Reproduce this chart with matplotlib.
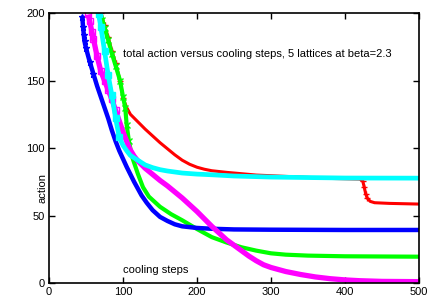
import matplotlib
matplotlib.use("Agg")
import matplotlib.pyplot as plt

plt.rcParams['font.family'] = ['Liberation Sans', 'DejaVu Sans']

# values (cooling step, total action)
red_x = [70, 75, 80, 85, 90, 96, 100, 105, 110, 120, 130, 140, 150, 160, 170, 180, 190, 200,
         210, 220, 240, 260, 280, 300, 340, 380, 420, 424, 426, 428, 430, 434, 440, 460, 500]
red_y = [200, 191, 182, 172, 163, 150, 137, 130, 125, 119.5, 114, 109, 104, 99.5, 95, 91, 88, 85.8,
         84.3, 83.2, 82, 81, 80, 79.5, 78.5, 77.5, 77, 75.5, 71, 66, 63, 60.5, 59.5, 59, 58.5]

green_x = [69, 72, 75, 80, 85, 90, 96, 100, 103, 105, 108, 112, 120, 127, 135, 150, 165, 180,
           200, 220, 240, 260, 280, 300, 320, 350, 400, 500]
green_y = [200, 195, 189, 180, 170, 161, 150, 138, 130, 117, 105, 94, 81, 71, 64, 56.5, 51, 46.5,
           40, 34, 30, 26.5, 24, 22, 21, 20.3, 19.8, 19.5]

blue_x = [45, 46, 47, 48, 50, 55, 60, 65, 70, 75, 80, 85, 90, 95, 100, 105, 110, 115, 120, 125,
          132, 140, 150, 160, 170, 180, 200, 220, 250, 300, 400, 500]
blue_y = [197, 190, 184, 179, 174, 164, 155, 146, 138, 130, 122, 113, 105, 98, 92, 86, 80.5, 75,
          70, 65, 59.5, 54, 49, 46, 43.5, 42, 40.8, 40.2, 39.7, 39.5, 39.3, 39.3]

magenta_x = [53, 55, 58, 60, 65, 70, 75, 80, 85, 90, 95, 100, 107, 110, 115, 120, 130, 140, 150,
             160, 170, 180, 190, 200, 210, 220, 230, 240, 250, 260, 270, 280, 290, 300, 320,
             340, 360, 380, 400, 420, 450, 500]
magenta_y = [199, 194, 186, 181, 168, 157, 150, 143, 136, 128, 120, 112, 102, 98.5, 94, 90.5, 85,
             80.5, 76, 72, 67.5, 63, 58, 53, 47.5, 42, 37, 32, 28, 24, 20, 16.5, 13.5, 11.5,
             8.5, 6.3, 4.5, 3.2, 2.3, 1.7, 1.2, 1.0]

cyan_x = [67, 70, 75, 80, 85, 90, 95, 100, 105, 110, 120, 130, 140, 150, 160, 180, 200, 220,
          250, 300, 400, 500]
cyan_y = [199, 190, 172, 154, 139, 122, 108, 102, 98, 94.5, 91, 87.5, 85.5, 84, 83, 81.5, 80.7,
          80.2, 79.3, 78.5, 77.8, 77.7]


def steep(xs, lo=0, hi=100, extra=()):
    # indices where markers show up as separate points in the reference
    return [i for i, x in enumerate(xs) if lo <= x <= hi or x in extra]


fig = plt.figure(figsize=(4.36, 3.05), dpi=100)
ax = fig.add_axes([0.1124, 0.0721, 0.8486, 0.8849])

common = dict(solid_joinstyle='round', solid_capstyle='butt')
ax.plot(red_x, red_y, color='red', lw=2.2, marker='+', ms=4, mew=1,
        markevery=steep(red_x, extra=(424, 426, 428, 430)), **common)
ax.plot(green_x, green_y, color='#00ff00', lw=3, marker='x', ms=4, mew=1,
        markevery=steep(green_x, hi=108), **common)
ax.plot(blue_x, blue_y, color='blue', lw=3.2, marker='*', ms=4.5, mew=1,
        markevery=steep(blue_x, hi=60), **common)
ax.plot(magenta_x, magenta_y, color='magenta', lw=3.8, marker='s', ms=4,
        mfc='none', mew=1, markevery=steep(magenta_x, hi=90), **common)
ax.plot(cyan_x, cyan_y, color='cyan', lw=3.4, marker='s', ms=4,
        markevery=steep(cyan_x, hi=95), **common)

ax.set_xlim(0, 500)
ax.set_ylim(0, 200)
ax.set_xticks([0, 100, 200, 300, 400, 500])
ax.set_yticks([0, 50, 100, 150, 200])
ax.tick_params(direction='in', length=4, width=1, top=True, right=True,
               labelsize=8, pad=3)
for s in ax.spines.values():
    s.set_linewidth(1.2)

ax.text(100, 170, 'total action versus cooling steps, 5 lattices at beta=2.3',
        fontsize=8, va='center', ha='left')
ax.text(100, 9.6, 'cooling steps', fontsize=8, va='center', ha='left')
ax.text(-0.0176, 0.352, 'action', transform=ax.transAxes, rotation=90,
        fontsize=8, va='center', ha='center', clip_on=False)

fig.savefig('out.png', dpi=100)
